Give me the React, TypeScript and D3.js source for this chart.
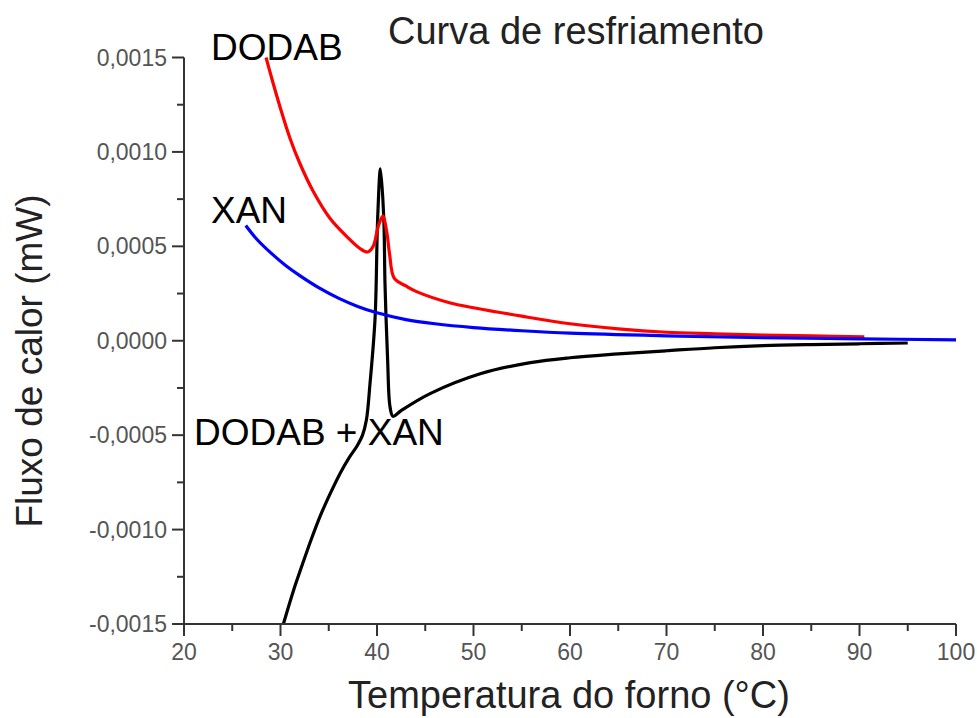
import React from "react";
import * as d3 from "d3";

const W = 977;
const H = 718;

const xTicks = [20, 30, 40, 50, 60, 70, 80, 90, 100];
const xMinor = [25, 35, 45, 55, 65, 75, 85, 95];
const yTicks = [0.0015, 0.001, 0.0005, 0, -0.0005, -0.001, -0.0015];
const yTickLabels = ["0,0015", "0,0010", "0,0005", "0,0000", "-0,0005", "-0,0010", "-0,0015"];
const yMinor = [0.00125, 0.00075, 0.00025, -0.00025, -0.00075, -0.00125];

// DODAB (red)
const dodabT = [28.5, 29.2, 30.0, 31.0, 32.0, 33.4, 35.1, 36.9, 38.2, 39.0, 39.6, 40.1, 40.6, 41.0, 41.3, 41.8, 43.0, 44.1, 47.6, 50, 55, 60, 65, 70, 75, 80, 85, 90.5];
const dodabV = [0.0015, 0.00137, 0.00123, 0.00107, 0.00094, 0.00079, 0.00065, 0.00055, 0.00049, 0.00047, 0.0005, 0.0006, 0.00066, 0.00058, 0.00046, 0.00033, 0.00029, 0.00026, 0.0002, 0.000175, 0.00013, 0.00009, 0.000063, 0.000045, 0.000037, 0.00003, 0.000026, 0.00002];

// XAN (blue)
const xanT = [26.4, 27.5, 29, 30.5, 32, 34, 36, 38, 40, 43, 46, 50, 55, 60, 70, 80, 90, 100];
const xanV = [0.00061, 0.00054, 0.000465, 0.0004, 0.000345, 0.00028, 0.000226, 0.000182, 0.000148, 0.000112, 0.00009, 0.00007, 0.000053, 0.00004, 0.000026, 0.000016, 0.00001, 0.000005];

// DODAB + XAN (black)
const mixT = [30.3, 31.3, 32.3, 33.2, 34.1, 35.1, 36.2, 37.1, 37.9, 38.5, 38.9, 39.27, 39.8, 40.07, 40.36, 40.7, 40.83, 41.1, 41.35, 41.66, 42.5, 45.5, 50.7, 55.9, 60, 65, 70, 75, 80, 85, 90, 95];
const mixV = [-0.0015, -0.00133, -0.00118, -0.00105, -0.00093, -0.000815, -0.0007, -0.00062, -0.00056, -0.0005, -0.00042, -0.00023, 0.00012, 0.00065, 0.00091, 0.00065, 0.0003, -0.0001, -0.00035, -0.0004, -0.00037, -0.00028, -0.000175, -0.000116, -0.00009, -0.00007, -0.000053, -0.000037, -0.000026, -0.00002, -0.000016, -0.000012];

const x = d3.scaleLinear().domain([20, 100]).range([184, 956]);
const y = d3.scaleLinear().domain([-0.0015, 0.0015]).range([624, 57.5]);

const line = d3
  .line<[number, number]>()
  .x((d) => x(d[0]))
  .y((d) => y(d[1]))
  .curve(d3.curveCatmullRom.alpha(0.5));

const zip = (a: number[], b: number[]) => a.map((t, i) => [t, b[i]] as [number, number]);

export default function App() {
  const font = "'Liberation Sans', Arial, sans-serif";
  const axisColor = "#333";
  const tickColor = "#555";
  return (
    <svg
      width={W}
      height={H}
      style={{ position: "absolute", left: 0, top: 0, background: "#fff" }}
      fontFamily={font}
    >
      {/* Title */}
      <text x={576} y={44} fontSize={38} fill="#222" textAnchor="middle">
        Curva de resfriamento
      </text>

      {/* Curves */}
      <path d={line(zip(mixT, mixV)) || ""} fill="none" stroke="#000" strokeWidth={3.2} strokeLinejoin="round" />
      <path d={line(zip(dodabT, dodabV)) || ""} fill="none" stroke="#ff0000" strokeWidth={3.2} strokeLinejoin="round" />
      <path d={line(zip(xanT, xanV)) || ""} fill="none" stroke="#0000ff" strokeWidth={3.2} strokeLinejoin="round" />

      {/* Y axis */}
      <line x1={x(20)} x2={x(20)} y1={y(0.0015)} y2={y(-0.0015)} stroke={axisColor} strokeWidth={2} />
      {yTicks.map((v, i) => (
        <g key={"yt" + i}>
          <line x1={x(20) - 12} x2={x(20)} y1={y(v)} y2={y(v)} stroke={axisColor} strokeWidth={2} />
          <text x={x(20) - 17} y={y(v)} dy="0.35em" fontSize={23} fill={tickColor} textAnchor="end">
            {yTickLabels[i]}
          </text>
        </g>
      ))}
      {yMinor.map((v, i) => (
        <line key={"ym" + i} x1={x(20) - 7} x2={x(20)} y1={y(v)} y2={y(v)} stroke={axisColor} strokeWidth={2} />
      ))}

      {/* X axis */}
      <line x1={x(20)} x2={x(100)} y1={y(-0.0015)} y2={y(-0.0015)} stroke={axisColor} strokeWidth={2} />
      {xTicks.map((v) => (
        <g key={"xt" + v}>
          <line x1={x(v)} x2={x(v)} y1={y(-0.0015)} y2={y(-0.0015) + 12} stroke={axisColor} strokeWidth={2} />
          <text x={x(v)} y={660} fontSize={23} fill={tickColor} textAnchor="middle">
            {v}
          </text>
        </g>
      ))}
      {xMinor.map((v) => (
        <line key={"xm" + v} x1={x(v)} x2={x(v)} y1={y(-0.0015)} y2={y(-0.0015) + 7} stroke={axisColor} strokeWidth={2} />
      ))}

      {/* Axis titles */}
      <text x={569} y={708} fontSize={38} fill="#222" textAnchor="middle">
        Temperatura do forno (°C)
      </text>
      <text transform="translate(42,361) rotate(-90)" fontSize={37} fill="#222" textAnchor="middle">
        Fluxo de calor (mW)
      </text>

      {/* Annotations */}
      <text x={211} y={60} fontSize={37} fill="#000">DODAB</text>
      <text x={211} y={223} fontSize={37} fill="#000">XAN</text>
      <text x={194} y={445} fontSize={37} fill="#000">DODAB + XAN</text>
    </svg>
  );
}
